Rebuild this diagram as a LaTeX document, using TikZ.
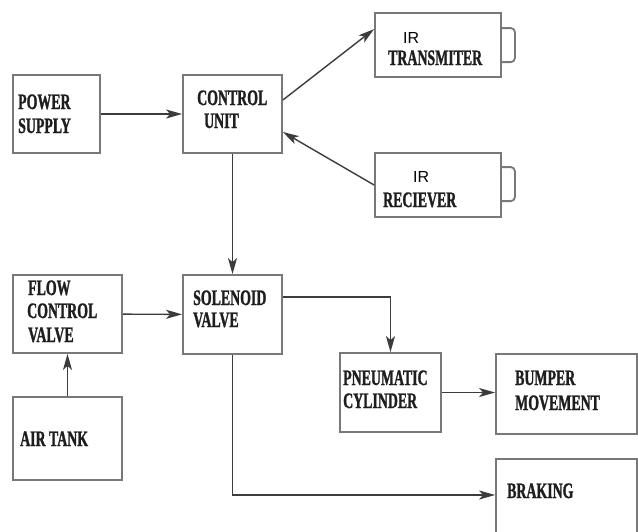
\documentclass[tikz,border=0pt]{standalone}
\usepackage{fontspec}
\setmainfont{Liberation Serif}[FakeStretch=0.63, BoldFeatures={FakeBold=1.2}]
\newfontfamily\irfont{Liberation Sans}
\usetikzlibrary{arrows.meta,calc}
\definecolor{boxc}{RGB}{120,120,120}
\definecolor{linec}{RGB}{60,60,60}
\definecolor{txtc}{RGB}{30,30,30}
\begin{document}
\begin{tikzpicture}[x=1pt,y=-1pt,
 box/.style={draw=boxc, line width=1.8pt, rectangle, inner sep=0pt},
 conn/.style={draw=linec, line width=1.4pt},
 tip/.tip={Stealth[length=16pt,width=9pt,inset=4pt]},
 arr/.style={conn, -tip},
 lbl/.style={anchor=base west, inner sep=0pt, text=txtc, font=\bfseries\fontsize{22}{22}\selectfont},
 irl/.style={anchor=base west, inner sep=0pt, text=black, font=\irfont\fontsize{16}{16}\selectfont}]
\useasboundingbox (0,0) rectangle (638,531);
\clip (0,0) rectangle (638,531);
\fill[white] (0,0) rectangle (638,531);
% boxes
\node[box, minimum width=87pt, minimum height=78pt] (ps) at (56.5,114) {};
\node[box, minimum width=99pt, minimum height=78pt] (cu) at (232.5,114) {};
\node[box, minimum width=126pt, minimum height=64pt] (irt) at (438,45) {};
\node[box, minimum width=126pt, minimum height=64pt] (irr) at (438,185) {};
\node[box, minimum width=109pt, minimum height=78pt] (fcv) at (67.5,314) {};
\node[box, minimum width=99pt, minimum height=79pt] (sv) at (232.5,314.5) {};
\node[box, minimum width=109pt, minimum height=83pt] (at) at (67.5,438.5) {};
\node[box, minimum width=101pt, minimum height=79pt] (pc) at (390.5,392.5) {};
\node[box, minimum width=141pt, minimum height=80pt] (bm) at (566.5,394) {};
\node[box, minimum width=141pt, minimum height=81pt] (br) at (566.5,499.5) {};
% IR handles
\draw[box, rounded corners=4pt] ([yshift=-16pt]irt.north east) -- ++(13,0) -- ++(0,34) -- ++(-13,0);
\draw[box, rounded corners=4pt] ([yshift=-15pt]irr.north east) -- ++(13,0) -- ++(0,34) -- ++(-13,0);
% labels
\node[lbl] (t1) at (18,109) {POWER};
\node[lbl] (t2) at (18,133) {SUPPLY};
\node[lbl] (t3) at (197,105) {CONTROL};
\node[lbl] (t4) at (204,128) {UNIT};
\node[irl] (t5) at (403,43) {IR};
\node[lbl] (t6) at (388,65) {TRANSMITER};
\node[irl] (t7) at (413,182) {IR};
\node[lbl] (t8) at (383,207) {RECIEVER};
\node[lbl] (t9) at (28,295) {FLOW};
\node[lbl] (t10) at (27,318) {CONTROL};
\node[lbl] (t11) at (28,342) {VALVE};
\node[lbl] (t12) at (193,305) {SOLENOID};
\node[lbl] (t13) at (193,327) {VALVE};
\node[lbl] (t14) at (20,446) {AIR TANK};
\node[lbl] (t15) at (343,385) {PNEUMATIC};
\node[lbl] (t16) at (343,408) {CYLINDER};
\node[lbl] (t17) at (515,385) {BUMPER};
\node[lbl] (t18) at (515,410) {MOVEMENT};
\node[lbl] (t19) at (507,498) {BRAKING};
% connectors
\draw[arr] (ps) -- (cu);
\draw[arr] ([yshift=14pt]cu.east) -- ([yshift=-17pt]irt.north west);
\draw[arr] (irr.west) -- ([yshift=-18pt]cu.east);
\draw[arr] (cu) -- (sv);
\draw[arr] (fcv) -- (sv);
\draw[arr] (at) -- (fcv);
\draw[arr] ([yshift=17.5pt]sv.east) -| (pc.north);
\draw[arr] (pc.east) -- (pc.east -| bm.west);
\draw[arr] (sv.south) |- ([yshift=4.5pt]br.west);
\end{tikzpicture}
\end{document}
